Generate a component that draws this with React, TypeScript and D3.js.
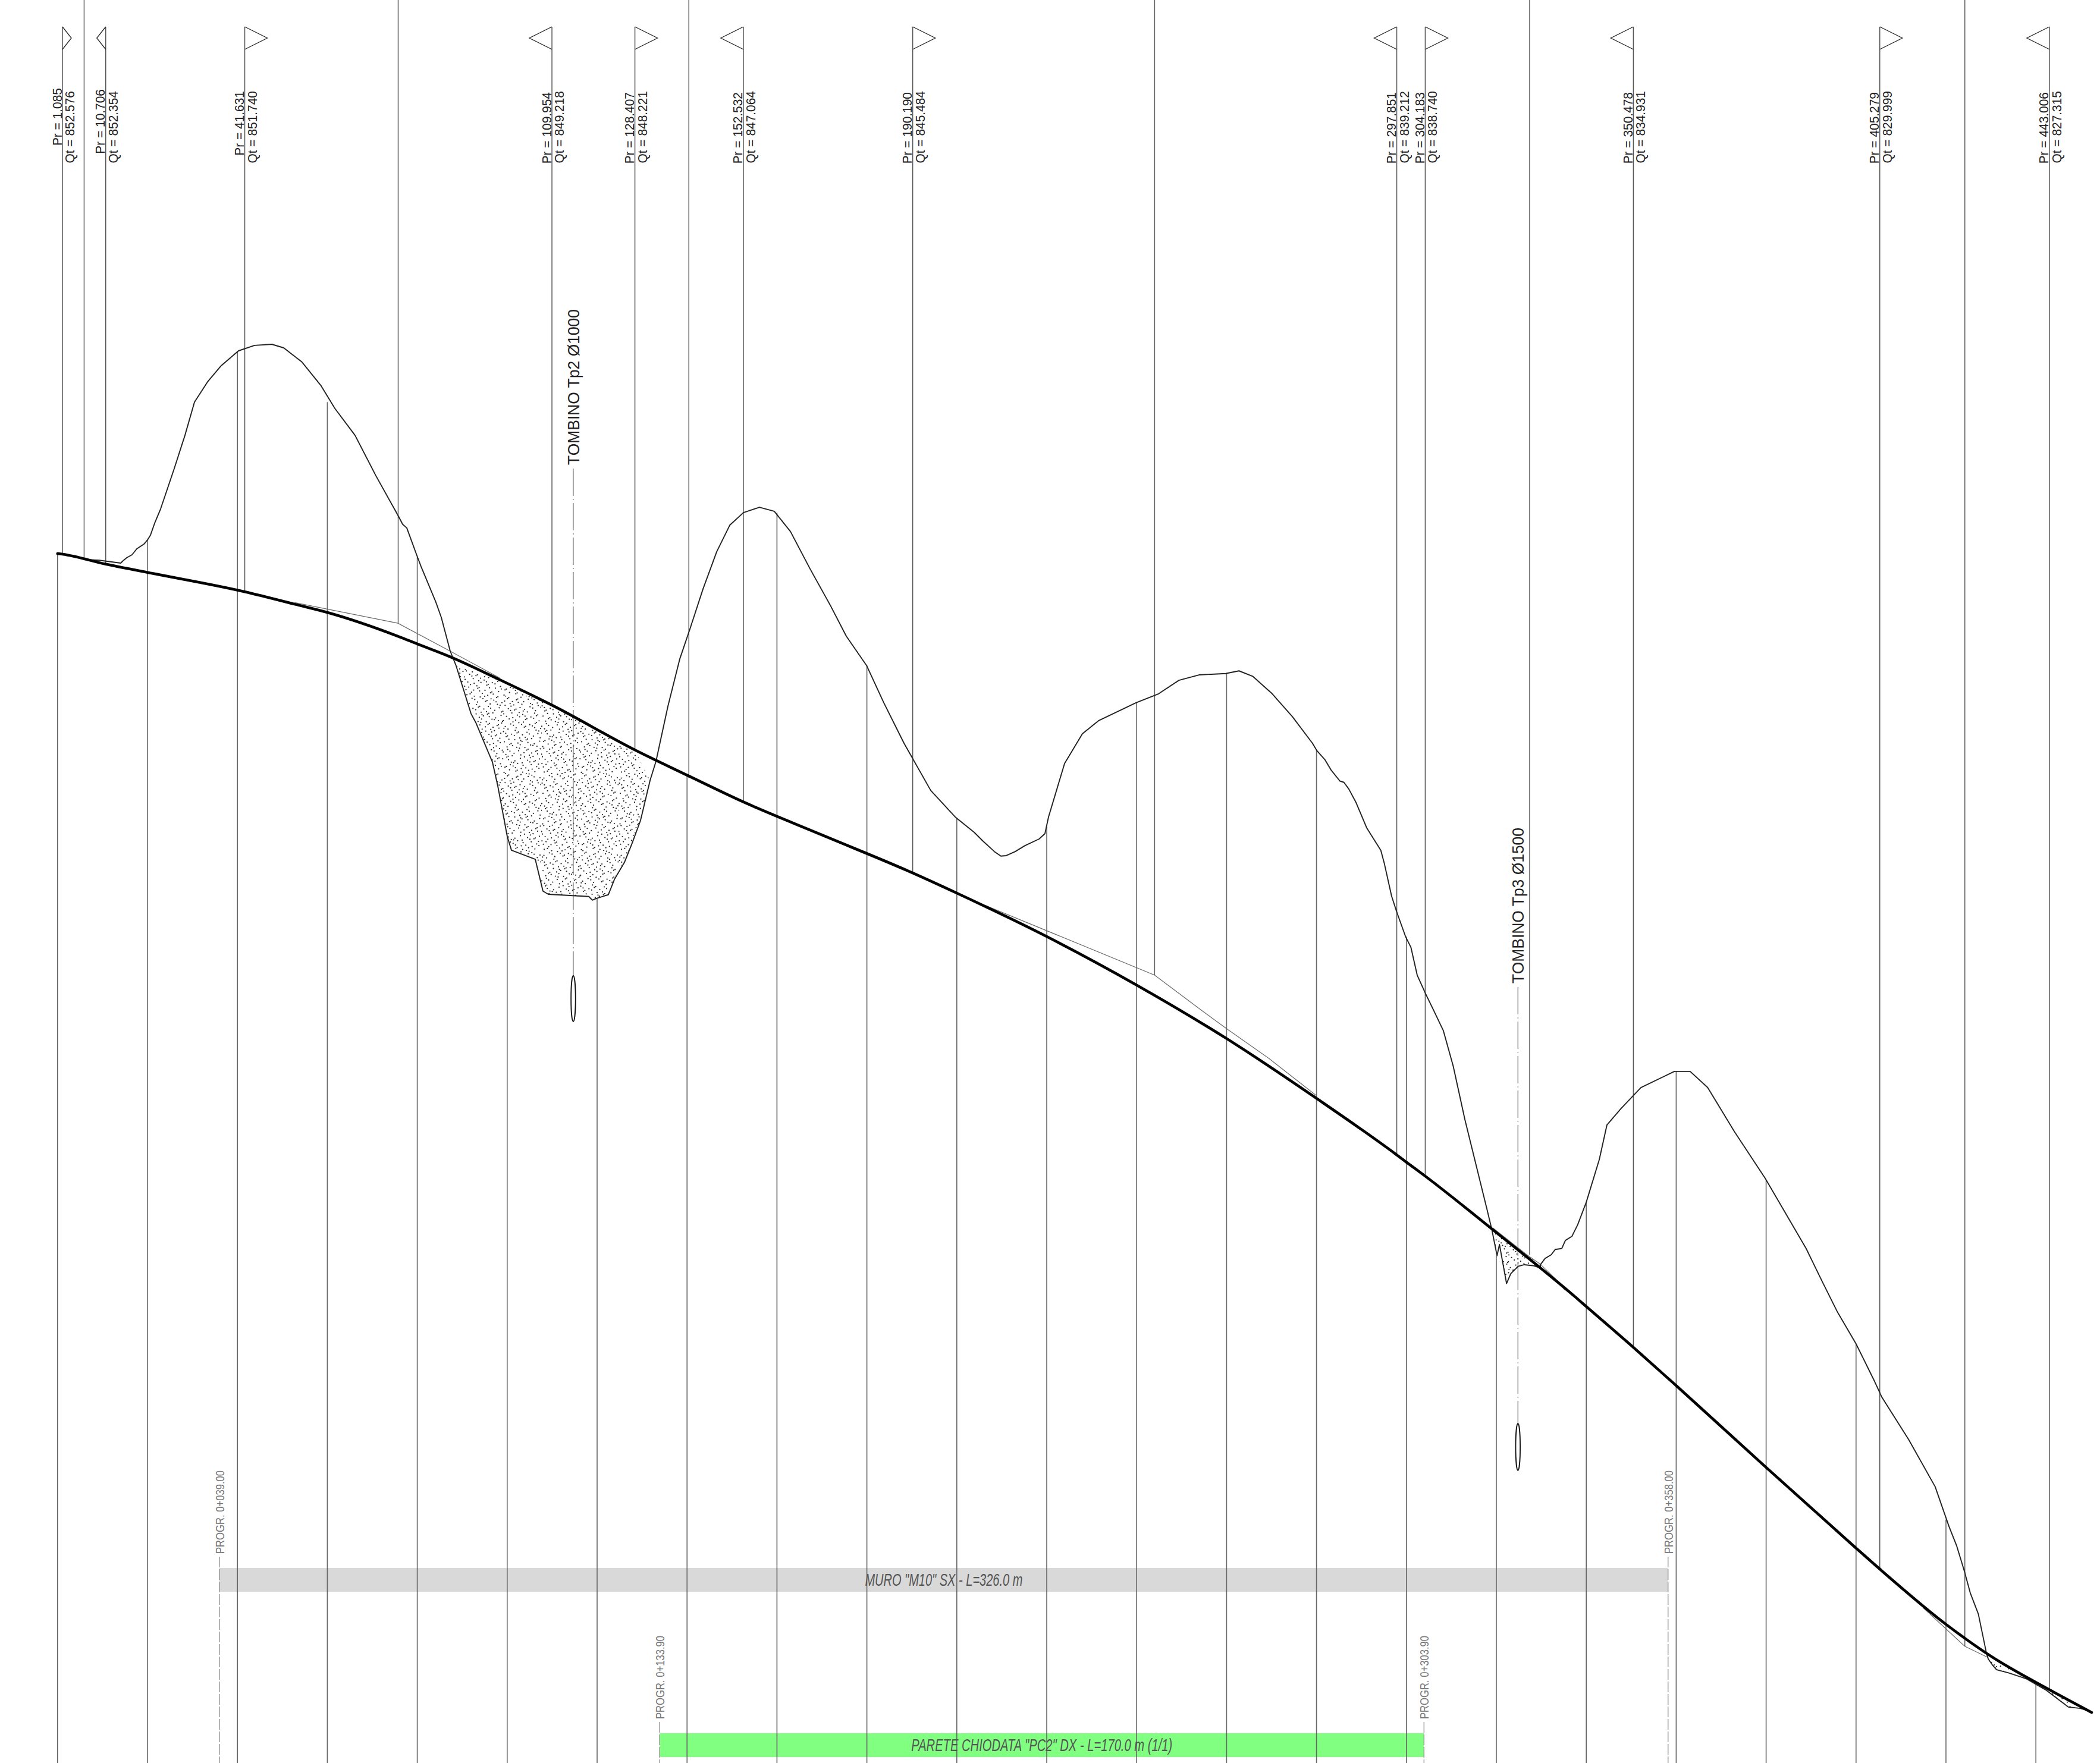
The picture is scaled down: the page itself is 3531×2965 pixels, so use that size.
import React from "react";
import * as d3 from "d3";

const W = 3531, H = 2965;

// Surveyed stations along the road: progressive (m), elevation (m)
const flagPr = [1.085, 10.706, 41.631, 109.954, 128.407, 152.532, 190.19, 297.851, 304.183, 350.478, 405.279, 443.006];
const flagQt = [852.576, 852.354, 851.74, 849.218, 848.221, 847.064, 845.484, 839.212, 838.74, 834.931, 829.999, 827.315];
const flagPrLabel = ["1.085", "10.706", "41.631", "109.954", "128.407", "152.532", "190.190", "297.851", "304.183", "350.478", "405.279", "443.006"];
const flagQtLabel = ["852.576", "852.354", "851.740", "849.218", "848.221", "847.064", "845.484", "839.212", "838.740", "834.931", "829.999", "827.315"];
const flagDir = [1, -1, 1, -1, 1, -1, 1, -1, 1, -1, 1, -1];
const flagWidth = [15, 15, 38, 38, 38, 38, 38, 38, 38, 38, 38, 38];
const flagPrTop = [148, 150, 153, 155, 155, 155, 155, 155, 155, 155, 155, 155];

const roadProfile: [number, number][] = [
  [0, 852.59], [1.085, 852.576], [10.706, 852.354], [20, 852.17], [41.631, 851.74], [53.3, 851.45], [60, 851.28], [75.7, 850.75],
  [80, 850.58], [87.4, 850.29], [98.3, 849.785], [106.3, 849.4], [109.954, 849.218], [128.407, 848.221], [140, 847.66],
  [152.532, 847.064], [170, 846.33], [190.19, 845.484], [200, 845.036], [220, 844.07],
  [240, 842.99], [260, 841.8], [280, 840.47], [297.851, 839.212],
  [300, 839.05], [304.183, 838.74], [319.2, 837.55], [337.7, 836.04], [340, 835.84], [350.478, 834.931], [360, 834.08],
  [380, 832.26], [399.5, 830.51], [405.279, 829.999], [420, 828.77], [430, 828.06], [443.006, 827.315], [452.4, 826.81],
];

const terrainProfile: [number, number][] = [
  [5.85, 852.457], [9.29, 852.44], [14.05, 852.378], [14.58, 852.43], [15.37, 852.497], [16.56, 852.563], [17.62, 852.695],
  [19.21, 852.8], [20, 852.893], [20.66, 852.999], [21.59, 853.264], [22.91, 853.581], [25.95, 854.481], [28.33, 855.22],
  [30.45, 855.96], [33.36, 856.41], [36.4, 856.77], [40.24, 857.1], [43.81, 857.22], [47.65, 857.245], [50.29, 857.166],
  [54.26, 856.86], [58.62, 856.32], [61.66, 855.82], [66.16, 855.22], [70.8, 854.32], [75.82, 853.42], [76.75, 853.24],
  [77.67, 853.16], [80.05, 852.51], [80.85, 852.3], [84.15, 851.505], [85.34, 851.17], [87.33, 850.42], [88.65, 850.09],
  [91.95, 849.03], [93.02, 848.83], [96.72, 847.95],
  [97.91, 847.42], [100.03, 846.29], [100.95, 845.99], [106.24, 845.79], [107.96, 845.08], [109.15, 845.01], [118.15, 844.96],
  [118.94, 844.88], [119.87, 844.92], [122.5, 845.0], [123.84, 845.34], [126.08, 845.72], [127.8, 846.15], [129.65, 846.65],
  [131.77, 847.54], [133.1, 847.97], [135.74, 849.19], [138.4, 850.25], [140.64, 850.91], [143.55, 851.8], [146.6, 852.63],
  [149.5, 853.22], [152.54, 853.5], [156.1, 853.62], [159.4, 853.53], [163, 853.08], [167.36, 852.25], [171.86, 851.44],
  [175.43, 850.75], [179.93, 850.1], [183.76, 849.27], [188.26, 848.37], [194.2, 847.32], [199.64, 846.73], [203.9, 846.385],
  [205.85, 846.19], [208.36, 845.96], [209.8, 845.86], [211, 845.87], [213, 845.96], [215.1, 846.09], [218.3, 846.24],
  [219.6, 846.36], [220.4, 846.73], [223.97, 847.92], [227.94, 848.58], [231.5, 848.87],
  [239.86, 849.27], [244.88, 849.47], [249.4, 849.77], [253.86, 849.89], [259.8, 849.92], [262.76, 849.98], [265.8, 849.86],
  [270.15, 849.47], [274.65, 848.96], [279.1, 848.37], [280.05, 848.21], [281.9, 848.0], [283.2, 847.78], [285.2, 847.53],
  [286.1, 847.5], [287.2, 847.35], [288.8, 847.05], [291.2, 846.48], [294.3, 845.99], [295.1, 845.69], [296.7, 844.97],
  [297.8, 844.63], [299.8, 844.07], [301, 843.83], [302.4, 843.21], [304.3, 842.79], [306.1, 842.42], [308.2, 841.98],
  [310.4, 841.19], [313, 840.0], [317.9, 838.01], [319, 837.55], [320.16, 836.97],
  [320.69, 837.22], [322.27, 836.35], [323.2, 836.57], [324.8, 836.73], [326.2, 836.77], [328.1, 836.75], [329.8, 836.7],
  [329.8, 836.77], [330.85, 836.91], [332.2, 836.99], [333.1, 837.11], [334.55, 837.13], [335.36, 837.31], [336.8, 837.4],
  [338.1, 837.66], [340, 838.16], [342.9, 839.11], [344.6, 839.88], [347.7, 840.24], [352.15, 840.71], [359.6, 841.07],
  [363.1, 841.07], [367, 840.71], [372.96, 839.73], [379.8, 838.69], [388.9, 837.13], [392.6, 836.37], [395.9, 835.71],
  [400, 835.01], [403.9, 834.22],
  [405.7, 833.83], [411.7, 832.88], [417.6, 831.83], [420.66, 830.95], [422.4, 830.51], [424.1, 829.95], [425.4, 829.47],
  [427.2, 829.0], [429, 828.13], [429.4, 828.0], [430.3, 827.87], [431.25, 827.76], [433.9, 827.69], [436.9, 827.59],
  [438, 827.55], [442.2, 827.31], [447.2, 826.93], [449.9, 826.9], [451.5, 826.85],
];

// Thin original-ground segments
const groundA: [number, number][] = [[52.7, 851.5], [75.7, 851.04], [87.3, 850.42], [98.3, 849.825]];
const groundB: [number, number][] = [[206.4, 844.76], [244, 843.21], [254.4, 842.43], [260, 842.02], [269.4, 841.36], [280, 840.53]];
const groundC: [number, number][] = [[319.2, 837.59], [326.8, 836.99], [329.8, 836.78], [333.4, 836.43], [335.2, 836.21]];
const groundD: [number, number][] = [[414.9, 829.14], [424.2, 828.28], [429.4, 828.03]];

// Stations for the 20 m section lines and the elevation each one stops at
const sectionPr = d3.range(0, 441, 20);
const sectionTopQt = [852.59, 852.89, 857.1, 855.96, 852.51, 846.29, 844.92, 847.65, 853.5, 850.1, 846.7, 846.5, 849.27, 849.92, 848.21, 844.07, 836.97, 838.16, 841.07, 838.65, 835.01, 831.1, 827.47];

// Lines from the top edge down to the ground line
const upperPr = [5.9, 75.75, 140.4, 244, 327.4, 424.2];
const upperQt = [852.46, 851.04, 847.6, 843.21, 836.99, 828.28];

// Stippled ranges below the road
const cutRanges: [number, number][] = [[87.5, 132.6], [318.7, 329.9], [429, 438], [442, 450]];

const culvertPr = [114.7, 324.8];
const culvertLabels = ["TOMBINO Tp2 Ø1000", "TOMBINO Tp3 Ø1500"];
const culvertTop = [788, 1660];
const culvertEllipseTop = [1641, 2394];
const culvertEllipseBottom = [1718, 2473];
const culvertTextEnd = [520, 1392];

const barStart = [36, 133.9];
const barEnd = [358.2, 303.9];
const barLabels = ['MURO "M10" SX - L=326.0 m', 'PARETE CHIODATA "PC2" DX - L=170.0 m (1/1)'];
const barStartLabels = ["PROGR. 0+039.00", "PROGR. 0+133.90"];
const barEndLabels = ["PROGR. 0+358.00", "PROGR. 0+303.90"];
const barColors = ["#d9d9d9", "#80ff80"];
const barTop = [2637, 2915];
const barHeight = 40;
const barTextLen = [265, 439];

const x = d3.scaleLinear().domain([0, 100]).range([96.8, 852.8]);
const y = d3.scaleLinear().domain([852.576, 800]).range([932, 932 + 52.576 * 75.6]);

const lineGen = d3.line<[number, number]>().x((d) => x(d[0])).y((d) => y(d[1]));
const smoothGen = d3.line<[number, number]>().x((d) => x(d[0])).y((d) => y(d[1])).curve(d3.curveMonotoneX);

function halton(i: number, b: number) {
  let f = 1, r = 0;
  while (i > 0) { f /= b; r += f * (i % b); i = Math.floor(i / b); }
  return r;
}
const TILE = 130;
const stipple = d3.range(1, 350).map((i) => [halton(i, 2) * TILE, halton(i, 3) * TILE]);

function cutPolygon(a: number, b: number) {
  const low = terrainProfile.filter((d) => d[0] >= a && d[0] <= b);
  const up = roadProfile.filter((d) => d[0] >= a && d[0] <= b).reverse();
  return lineGen([...low, ...up]) + "Z";
}

const FONT = "'Liberation Sans', Arial, sans-serif";

export default function App() {
  const road = smoothGen(roadProfile) || "";
  const terrain = lineGen(terrainProfile) || "";
  return (
    <svg width={W} height={H} viewBox={`0 0 ${W} ${H}`} style={{ position: "absolute", left: 0, top: 0, display: "block", background: "#fff" }} fontFamily={FONT}>
      <defs>
        <pattern id="stip" patternUnits="userSpaceOnUse" width={TILE} height={TILE}>
          {stipple.map((p, i) => <circle key={i} cx={p[0]} cy={p[1]} r={1.1} fill="#222" />)}
        </pattern>
      </defs>
      <rect width={W} height={H} fill="#fff" />

      {barStart.map((s, i) => (
        <rect key={i} x={x(s)} y={barTop[i]} width={x(barEnd[i]) - x(s)} height={barHeight} fill={barColors[i]} />
      ))}

      {cutRanges.map((r, i) => <path key={i} d={cutPolygon(r[0], r[1])} fill="url(#stip)" stroke="none" />)}

      {sectionPr.map((p, i) => (
        <line key={i} x1={x(p)} x2={x(p)} y1={H} y2={y(sectionTopQt[i])} stroke="#666" strokeWidth={1.6} />
      ))}
      {upperPr.map((p, i) => (
        <line key={i} x1={x(p)} x2={x(p)} y1={0} y2={y(upperQt[i])} stroke="#555" strokeWidth={1.4} />
      ))}

      {[groundA, groundB, groundC, groundD].map((g, i) => (
        <path key={i} d={lineGen(g) || ""} fill="none" stroke="#666" strokeWidth={1.2} />
      ))}

      {flagPr.map((p, i) => {
        const fx = x(p);
        return (
          <g key={i}>
            <line x1={fx} x2={fx} y1={45} y2={y(flagQt[i])} stroke="#555" strokeWidth={1.5} />
            <path d={`M${fx},45L${fx + flagDir[i] * flagWidth[i]},64L${fx},83`} fill="none" stroke="#222" strokeWidth={1.3} />
            <text transform={`translate(${fx - 1.5},${flagPrTop[i]}) rotate(-90) scale(0.93,1)`} textAnchor="end" fontSize={22.5} fill="#222">{`Pr = ${flagPrLabel[i]}`}</text>
            <text transform={`translate(${fx + 20},153) rotate(-90) scale(0.93,1)`} textAnchor="end" fontSize={22.5} fill="#222">{`Qt = ${flagQtLabel[i]}`}</text>
          </g>
        );
      })}

      {culvertPr.map((p, i) => {
        const cx = x(p);
        return (
          <g key={i}>
            <line x1={cx} x2={cx} y1={culvertTop[i]} y2={culvertEllipseTop[i]} stroke="#666" strokeWidth={1.2} strokeDasharray="46 5 2 5" />
            <ellipse cx={cx} cy={(culvertEllipseTop[i] + culvertEllipseBottom[i]) / 2} rx={3.8} ry={(culvertEllipseBottom[i] - culvertEllipseTop[i]) / 2} fill="none" stroke="#111" strokeWidth={1.8} />
            <text transform={`translate(${cx + 10},${culvertTextEnd[i]}) rotate(-90)`} textAnchor="end" fontSize={28} fill="#222" textLength={262} lengthAdjust="spacingAndGlyphs">{culvertLabels[i]}</text>
          </g>
        );
      })}

      {barStart.map((s, i) => {
        const sx = x(s), ex = x(barEnd[i]);
        const labelBottom = barTop[i] - 24;
        return (
          <g key={i}>
            <line x1={sx} x2={sx} y1={barTop[i] - 19} y2={H} stroke="#777" strokeWidth={1.1} strokeDasharray="18 3" />
            <line x1={ex} x2={ex} y1={barTop[i] - 19} y2={H} stroke="#777" strokeWidth={1.1} strokeDasharray="18 3" />
            <text transform={`translate(${sx + 8},${labelBottom}) rotate(-90)`} fontSize={20} fill="#777" textLength={140} lengthAdjust="spacingAndGlyphs">{barStartLabels[i]}</text>
            <text transform={`translate(${ex + 8},${labelBottom}) rotate(-90)`} fontSize={20} fill="#777" textLength={140} lengthAdjust="spacingAndGlyphs">{barEndLabels[i]}</text>
            <text x={(sx + ex) / 2} y={barTop[i] + 30} textAnchor="middle" fontStyle="italic" fontSize={29} fill="#555" textLength={barTextLen[i]} lengthAdjust="spacingAndGlyphs">{barLabels[i]}</text>
          </g>
        );
      })}

      <path d={terrain} fill="none" stroke="#222" strokeWidth={1.9} strokeLinejoin="round" />
      <path d={road} fill="none" stroke="#000" strokeWidth={4.6} strokeLinecap="round" />
    </svg>
  );
}
